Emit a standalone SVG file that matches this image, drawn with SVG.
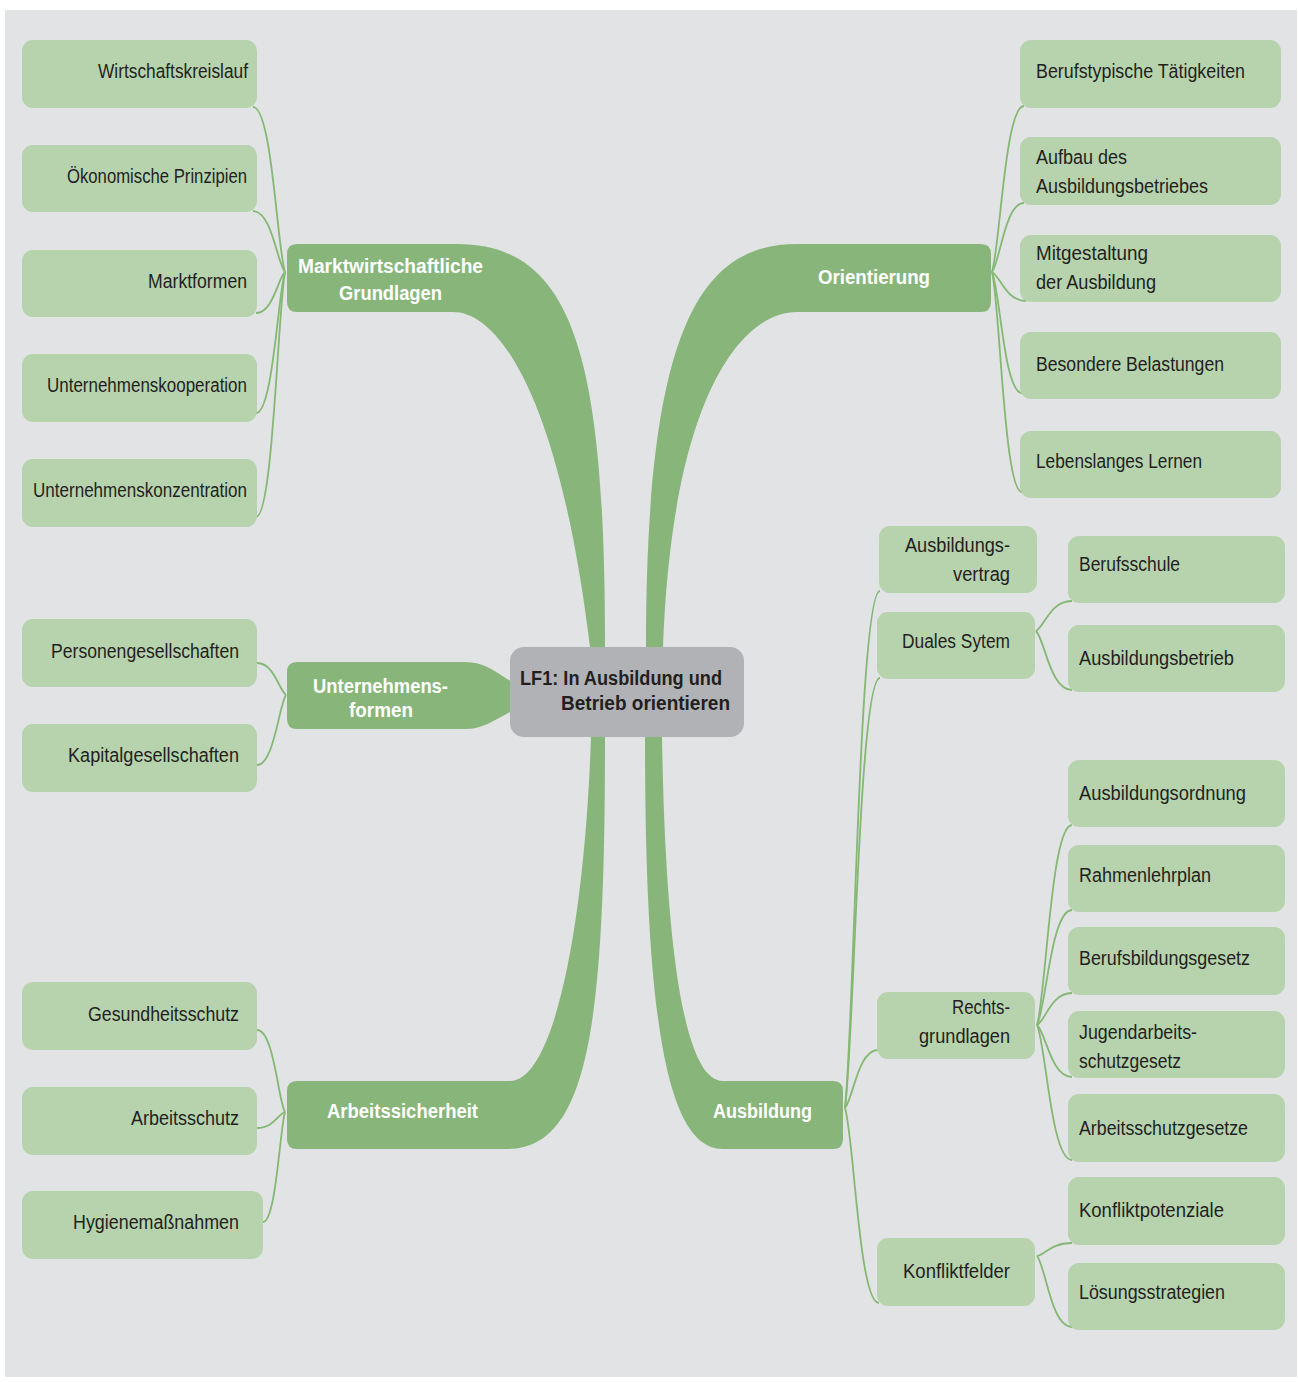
<svg xmlns="http://www.w3.org/2000/svg" width="1298" height="1382" viewBox="0 0 1298 1382">
<style>
.bg{fill:#e1e3e5}
.leaf{fill:#b7d3ae}
.branch{fill:#88b67a}
.center{fill:#b1b2b5}
.t{font-family:"Liberation Sans Narrow","Liberation Sans",Arial,sans-serif;font-size:20px;fill:#231f20}
.b{font-family:"Liberation Sans Narrow","Liberation Sans",Arial,sans-serif;font-size:20px;font-weight:bold;fill:#ffffff}
.c{font-family:"Liberation Sans Narrow","Liberation Sans",Arial,sans-serif;font-size:20px;font-weight:bold;fill:#231f20}
#connectors path{fill:none;stroke:#84b874;stroke-width:1.8}
</style>
<rect width="1298" height="1382" fill="#ffffff"/>
<rect class="bg" x="5" y="10" width="1292" height="1367"/>

<g id="connectors">
<path d="M253,107 C272,107 277,247 285,272"/>
<path d="M253,211 C272,211 277,263 285,272"/>
<path d="M256,313 C273,313 278,278 285,272"/>
<path d="M256,413 C273,413 278,293 285,272"/>
<path d="M256,517 C273,517 278,309 285,272"/>
<path d="M257,663 C274,663 279,690 286,695"/>
<path d="M257,765 C274,765 279,705 286,695"/>
<path d="M257,1030 C274,1030 278,1100 285,1112"/>
<path d="M257,1128 C274,1128 278,1114 285,1112"/>
<path d="M263,1222 C276,1222 280,1128 285,1112"/>
<path d="M1024,106 C1005,106 1000,247 992,272"/>
<path d="M1024,203 C1005,203 1000,262 992,272"/>
<path d="M1026,301 C1006,301 1000,276 992,272"/>
<path d="M1022,393 C1004,393 1000,290 992,272"/>
<path d="M1022,492 C1004,492 1000,305 992,272"/>
<path d="M880,591 C859,591 854,1030 845,1108"/>
<path d="M880,678 C859,678 854,1043 845,1108"/>
<path d="M878,1050 C858,1050 853,1099 845,1108"/>
<path d="M879,1303 C859,1303 854,1137 845,1108"/>
<path d="M1072,601 C1050,601 1045,626 1036,631"/>
<path d="M1072,690 C1050,690 1045,640 1036,631"/>
<path d="M1072,825 C1051,825 1046,995 1037,1025"/>
<path d="M1072,910 C1051,910 1046,1008 1037,1025"/>
<path d="M1072,993 C1051,993 1046,1020 1037,1025"/>
<path d="M1072,1077 C1051,1077 1046,1033 1037,1025"/>
<path d="M1072,1160 C1051,1160 1046,1045 1037,1025"/>
<path d="M1072,1243 C1051,1243 1046,1254 1037,1256"/>
<path d="M1072,1327 C1051,1327 1046,1267 1037,1256"/>
</g>

<g id="markt">
<path class="branch" d="M297,244 H457 C575,244 605,360 605,647 V690 H590 V647 C560,400 500,312 453,312 H297 Q287,312 287,302 V254 Q287,244 297,244 Z"/>
<text class="b" x="298" y="273" textLength="185" lengthAdjust="spacingAndGlyphs">Marktwirtschaftliche</text>
<text class="b" x="339" y="300" textLength="103" lengthAdjust="spacingAndGlyphs">Grundlagen</text>
</g>
<g id="arbeitssicherheit">
<path class="branch" d="M591,700 V737 C585,920 555,1081 510,1081 H297 Q287,1081 287,1091 V1139 Q287,1149 297,1149 H507 C590,1149 605,1020 605,737 V700 Z"/>
<text class="b" x="327" y="1118" textLength="151" lengthAdjust="spacingAndGlyphs">Arbeitssicherheit</text>
</g>
<g id="orientierung">
<path class="branch" d="M981,244 H797 C700,244 646,330 646,647 V690 H663 V647 C672,400 740,312 797,312 H981 Q991,312 991,302 V254 Q991,244 981,244 Z"/>
<text class="b" x="818" y="284" textLength="112" lengthAdjust="spacingAndGlyphs">Orientierung</text>
</g>
<g id="ausbildung">
<path class="branch" d="M645,700 V737 C645,1010 665,1149 723,1149 H833 Q843,1149 843,1139 V1091 Q843,1081 833,1081 H723 C680,1081 665,920 662,737 V700 Z"/>
<text class="b" x="713" y="1118" textLength="99" lengthAdjust="spacingAndGlyphs">Ausbildung</text>
</g>
<g id="unternehmensformen">
<path class="branch" d="M297,662 H465 C485,662 495,672 514,683 V710 C495,719 485,729 465,729 H297 Q287,729 287,719 V672 Q287,662 297,662 Z"/>
<text class="b" x="313" y="693" textLength="135" lengthAdjust="spacingAndGlyphs">Unternehmens-</text>
<text class="b" x="349" y="717" textLength="64" lengthAdjust="spacingAndGlyphs">formen</text>
</g>

<g id="center">
<rect class="center" x="510" y="647" width="234" height="90" rx="14"/>
<text class="c" x="520" y="685" textLength="202" lengthAdjust="spacingAndGlyphs">LF1: In Ausbildung und</text>
<text class="c" x="561" y="710" textLength="169" lengthAdjust="spacingAndGlyphs">Betrieb orientieren</text>
</g>

<g id="wirtschaftskreislauf"><rect class="leaf" x="22" y="40" width="235" height="68" rx="11"/><text class="t" x="98" y="78" textLength="150" lengthAdjust="spacingAndGlyphs">Wirtschaftskreislauf</text></g>
<g id="oekonomische-prinzipien"><rect class="leaf" x="22" y="145" width="235" height="67" rx="11"/><text class="t" x="67" y="183" textLength="180" lengthAdjust="spacingAndGlyphs">Ökonomische Prinzipien</text></g>
<g id="marktformen"><rect class="leaf" x="22" y="250" width="235" height="67" rx="11"/><text class="t" x="148" y="288" textLength="99" lengthAdjust="spacingAndGlyphs">Marktformen</text></g>
<g id="unternehmenskooperation"><rect class="leaf" x="22" y="354" width="235" height="68" rx="11"/><text class="t" x="47" y="392" textLength="200" lengthAdjust="spacingAndGlyphs">Unternehmenskooperation</text></g>
<g id="unternehmenskonzentration"><rect class="leaf" x="22" y="459" width="235" height="68" rx="11"/><text class="t" x="33" y="497" textLength="214" lengthAdjust="spacingAndGlyphs">Unternehmenskonzentration</text></g>
<g id="personengesellschaften"><rect class="leaf" x="22" y="619" width="235" height="68" rx="11"/><text class="t" x="51" y="658" textLength="188" lengthAdjust="spacingAndGlyphs">Personengesellschaften</text></g>
<g id="kapitalgesellschaften"><rect class="leaf" x="22" y="724" width="235" height="68" rx="11"/><text class="t" x="68" y="762" textLength="171" lengthAdjust="spacingAndGlyphs">Kapitalgesellschaften</text></g>
<g id="gesundheitsschutz"><rect class="leaf" x="22" y="982" width="235" height="68" rx="11"/><text class="t" x="88" y="1021" textLength="151" lengthAdjust="spacingAndGlyphs">Gesundheitsschutz</text></g>
<g id="arbeitsschutz"><rect class="leaf" x="22" y="1087" width="235" height="68" rx="11"/><text class="t" x="131" y="1125" textLength="108" lengthAdjust="spacingAndGlyphs">Arbeitsschutz</text></g>
<g id="hygienemassnahmen"><rect class="leaf" x="22" y="1191" width="241" height="68" rx="11"/><text class="t" x="73" y="1229" textLength="166" lengthAdjust="spacingAndGlyphs">Hygienemaßnahmen</text></g>

<g id="berufstypische-taetigkeiten"><rect class="leaf" x="1020" y="40" width="261" height="68" rx="11"/><text class="t" x="1036" y="78" textLength="209" lengthAdjust="spacingAndGlyphs">Berufstypische Tätigkeiten</text></g>
<g id="aufbau"><rect class="leaf" x="1020" y="137" width="261" height="68" rx="11"/><text class="t" x="1036" y="164" textLength="91" lengthAdjust="spacingAndGlyphs">Aufbau des</text><text class="t" x="1036" y="193" textLength="172" lengthAdjust="spacingAndGlyphs">Ausbildungsbetriebes</text></g>
<g id="mitgestaltung"><rect class="leaf" x="1020" y="235" width="261" height="67" rx="11"/><text class="t" x="1036" y="260" textLength="112" lengthAdjust="spacingAndGlyphs">Mitgestaltung</text><text class="t" x="1036" y="289" textLength="120" lengthAdjust="spacingAndGlyphs">der Ausbildung</text></g>
<g id="besondere-belastungen"><rect class="leaf" x="1020" y="332" width="261" height="67" rx="11"/><text class="t" x="1036" y="371" textLength="188" lengthAdjust="spacingAndGlyphs">Besondere Belastungen</text></g>
<g id="lebenslanges-lernen"><rect class="leaf" x="1020" y="431" width="261" height="67" rx="11"/><text class="t" x="1036" y="468" textLength="166" lengthAdjust="spacingAndGlyphs">Lebenslanges Lernen</text></g>

<g id="ausbildungsvertrag"><rect class="leaf" x="879" y="526" width="158" height="67" rx="11"/><text class="t" x="905" y="552" textLength="105" lengthAdjust="spacingAndGlyphs">Ausbildungs-</text><text class="t" x="953" y="581" textLength="57" lengthAdjust="spacingAndGlyphs">vertrag</text></g>
<g id="duales-system"><rect class="leaf" x="877" y="612" width="158" height="67" rx="11"/><text class="t" x="902" y="648" textLength="108" lengthAdjust="spacingAndGlyphs">Duales Sytem</text></g>
<g id="rechtsgrundlagen"><rect class="leaf" x="877" y="992" width="158" height="67" rx="11"/><text class="t" x="952" y="1014" textLength="58" lengthAdjust="spacingAndGlyphs">Rechts-</text><text class="t" x="919" y="1043" textLength="91" lengthAdjust="spacingAndGlyphs">grundlagen</text></g>
<g id="konfliktfelder"><rect class="leaf" x="877" y="1238" width="158" height="68" rx="11"/><text class="t" x="903" y="1278" textLength="107" lengthAdjust="spacingAndGlyphs">Konfliktfelder</text></g>

<g id="berufsschule"><rect class="leaf" x="1068" y="536" width="217" height="67" rx="11"/><text class="t" x="1079" y="571" textLength="101" lengthAdjust="spacingAndGlyphs">Berufsschule</text></g>
<g id="ausbildungsbetrieb"><rect class="leaf" x="1068" y="625" width="217" height="67" rx="11"/><text class="t" x="1079" y="665" textLength="155" lengthAdjust="spacingAndGlyphs">Ausbildungsbetrieb</text></g>
<g id="ausbildungsordnung"><rect class="leaf" x="1068" y="760" width="217" height="67" rx="11"/><text class="t" x="1079" y="800" textLength="167" lengthAdjust="spacingAndGlyphs">Ausbildungsordnung</text></g>
<g id="rahmenlehrplan"><rect class="leaf" x="1068" y="845" width="217" height="67" rx="11"/><text class="t" x="1079" y="882" textLength="132" lengthAdjust="spacingAndGlyphs">Rahmenlehrplan</text></g>
<g id="berufsbildungsgesetz"><rect class="leaf" x="1068" y="927" width="217" height="68" rx="11"/><text class="t" x="1079" y="965" textLength="171" lengthAdjust="spacingAndGlyphs">Berufsbildungsgesetz</text></g>
<g id="jugendarbeitsschutzgesetz"><rect class="leaf" x="1068" y="1011" width="217" height="67" rx="11"/><text class="t" x="1079" y="1039" textLength="118" lengthAdjust="spacingAndGlyphs">Jugendarbeits-</text><text class="t" x="1079" y="1068" textLength="102" lengthAdjust="spacingAndGlyphs">schutzgesetz</text></g>
<g id="arbeitsschutzgesetze"><rect class="leaf" x="1068" y="1094" width="217" height="68" rx="11"/><text class="t" x="1079" y="1135" textLength="169" lengthAdjust="spacingAndGlyphs">Arbeitsschutzgesetze</text></g>
<g id="konfliktpotenziale"><rect class="leaf" x="1068" y="1177" width="217" height="68" rx="11"/><text class="t" x="1079" y="1217" textLength="145" lengthAdjust="spacingAndGlyphs">Konfliktpotenziale</text></g>
<g id="loesungsstrategien"><rect class="leaf" x="1068" y="1263" width="217" height="67" rx="11"/><text class="t" x="1079" y="1299" textLength="146" lengthAdjust="spacingAndGlyphs">Lösungsstrategien</text></g>
</svg>
